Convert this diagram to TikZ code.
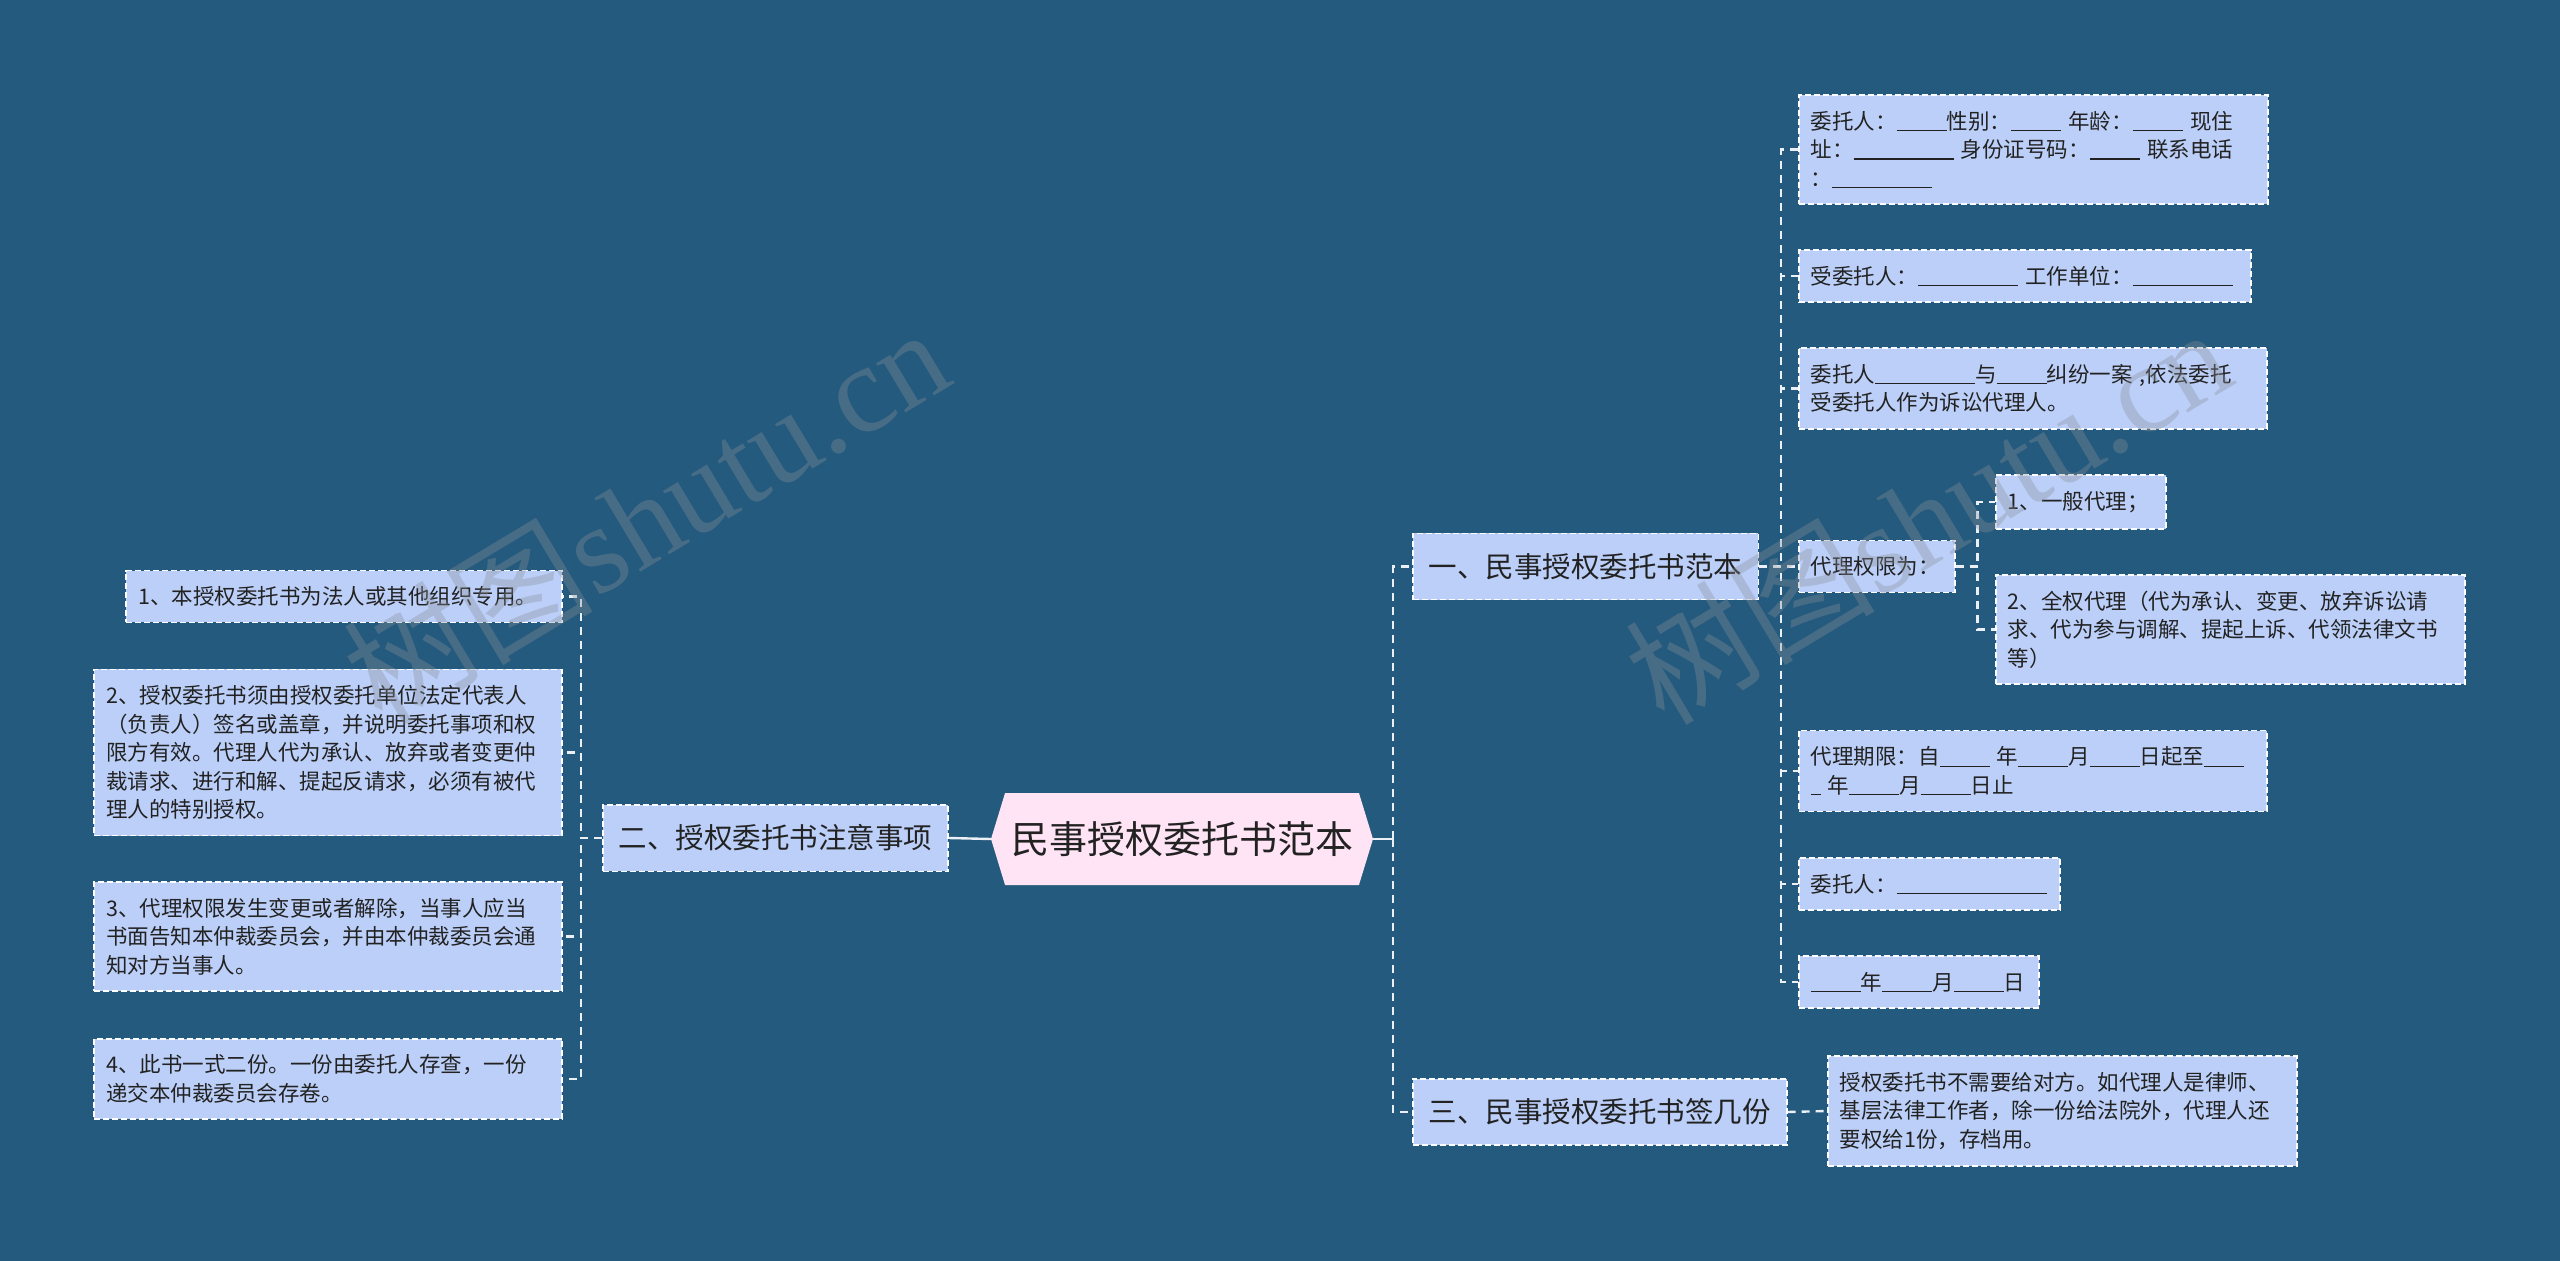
\documentclass[tikz,border=0pt]{standalone}
\usepackage{fontspec}
\setmainfont{Noto Sans CJK SC}
\newfontfamily\wmserif{Liberation Serif}
\usetikzlibrary{shapes.symbols}
\definecolor{bgblue}{HTML}{245A7D}
\definecolor{leaffill}{HTML}{BBCFF8}
\definecolor{rootfill}{HTML}{FFE4F6}
\definecolor{ink}{HTML}{222222}
\definecolor{wire}{HTML}{EAF0F6}
\definecolor{wmgray}{HTML}{8A8F99}
\newcommand\blank[1]{\rule[-2pt]{#1pt}{1.1pt}}
\tikzset{
  box/.style={fill=leaffill, draw=white, line width=1.6pt, dash pattern=on 6pt off 3pt, text=ink, align=left, anchor=west},
  leaf/.style={box, font=\fontsize{21.5}{28.5}\selectfont, inner xsep=12pt, inner ysep=16pt},
  branch/.style={box, font=\fontsize{28.5}{34}\selectfont, inner xsep=16pt, inner ysep=20pt},
  root/.style={signal, signal to=west and east, signal pointer angle=146, fill=rootfill, text=ink, font=\fontsize{38}{44}\selectfont, minimum width=382pt, minimum height=92pt},
  link/.style={wire, line width=2.4pt, dash pattern=on 8pt off 6pt},
  tie/.style={wire, line width=2.4pt},
  wmark/.style={text=wmgray, opacity=0.35, rotate=31, font=\fontsize{125}{130}\selectfont}
}
\begin{document}
\begin{tikzpicture}[x=1pt,y=-1pt]
\useasboundingbox (0,0) rectangle (2560,1261);
\fill[bgblue] (0,0) rectangle (2560,1261);
% centre and the three branches
\node[root] (root) at (1182,839) {民事授权委托书范本};
\node[branch] (b1) at (1412,566.5) {一、民事授权委托书范本};
\node[branch, anchor=east] (b2) at (949,838) {二、授权委托书注意事项};
\node[branch] (b3) at (1412,1112) {三、民事授权委托书签几份};
% branch one
\node[leaf, text width=445pt] (a1) at (1798,149.5) {委托人：\blank{50}性别：\blank{50} 年龄：\blank{50} 现住\\址：\blank{100} 身份证号码：\blank{50} 联系电话\\：\blank{100}};
\node[leaf, text width=428pt] (a2) at (1798,276) {受委托人：\blank{100} 工作单位：\blank{100}};
\node[leaf, text width=444pt] (a3) at (1798,388.5) {委托人\blank{100}与\blank{50}纠纷一案 ,依法委托\\受委托人作为诉讼代理人。};
\node[leaf, text width=132pt] (a4) at (1798,566.5) {代理权限为：};
\node[leaf, text width=146pt] (p1) at (1995,502) {1、一般代理；};
\node[leaf, text width=445pt] (p2) at (1995,629.5) {2、全权代理（代为承认、变更、放弃诉讼请\\求、代为参与调解、提起上诉、代领法律文书\\等）};
\node[leaf, text width=444pt] (a5) at (1798,771) {代理期限：自\blank{50} 年\blank{50}月\blank{50}日起至\blank{40}\\\blank{10} 年\blank{50}月\blank{50}日止};
\node[leaf, text width=237pt] (a6) at (1798,884) {委托人：\blank{150}};
\node[leaf, text width=216pt] (a7) at (1798,982) {\blank{50}年\blank{50}月\blank{50}日};
% branch three
\node[leaf, text width=445pt] (c1) at (1827,1111) {授权委托书不需要给对方。如代理人是律师、\\基层法律工作者，除一份给法院外，代理人还\\要权给1份，存档用。};
% branch two
\node[leaf, anchor=east, text width=412pt] (l1) at (563,596.5) {1、本授权委托书为法人或其他组织专用。};
\node[leaf, anchor=east, text width=444pt] (l2) at (563,752.5) {2、授权委托书须由授权委托单位法定代表人\\（负责人）签名或盖章，并说明委托事项和权\\限方有效。代理人代为承认、放弃或者变更仲\\裁请求、进行和解、提起反请求，必须有被代\\理人的特别授权。};
\node[leaf, anchor=east, text width=444pt] (l3) at (563,936.5) {3、代理权限发生变更或者解除，当事人应当\\书面告知本仲裁委员会，并由本仲裁委员会通\\知对方当事人。};
\node[leaf, anchor=east, text width=444pt] (l4) at (563,1079) {4、此书一式二份。一份由委托人存查，一份\\递交本仲裁委员会存卷。};
% connectors
\draw[tie] (b2.east) -- (root.west);
\coordinate (rj) at ([xshift=20pt]root.east);
\draw[tie] (root.east) -- (rj);
\foreach \n in {b1,b3} \draw[link] (rj) |- (\n.west);
\foreach \n in {a1,a2,a3,a4,a5,a6,a7} \draw[link] (b1.east) -- ++(22,0) |- (\n.west);
\foreach \n in {p1,p2} \draw[link] (a4.east) -- ++(22,0) |- (\n.west);
\draw[link] (b3.east) -- (c1.west);
\foreach \n in {l1,l2,l3,l4} \draw[link] (b2.west) -- ++(-21,0) |- (\n.east);
% watermarks
\node[wmark] (wm1) at (645,514) {树图{\wmserif shutu.cn}};
\node[wmark] (wm2) at (1927,514) {树图{\wmserif shutu.cn}};
\end{tikzpicture}
\end{document}
